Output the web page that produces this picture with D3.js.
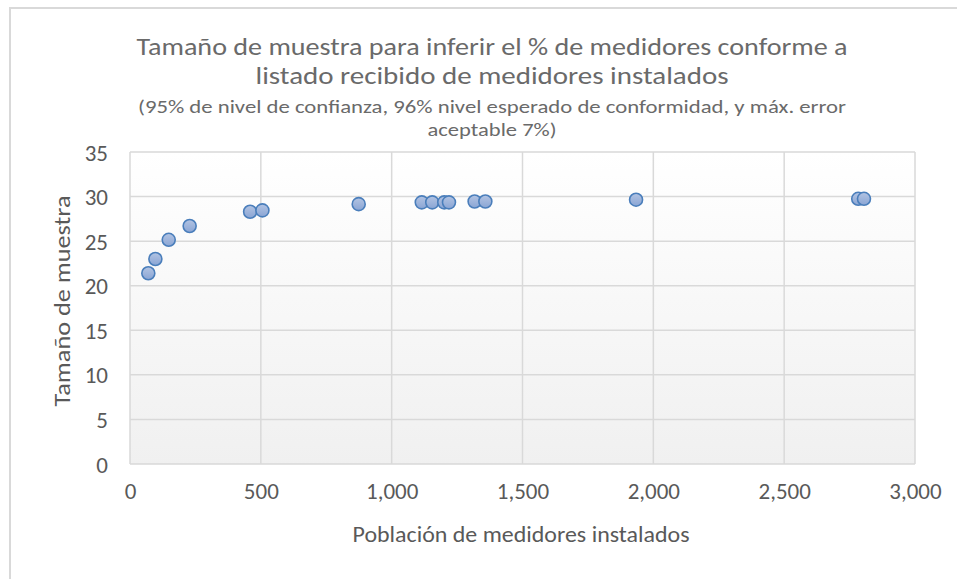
<!DOCTYPE html>
<html>
<head>
<meta charset="utf-8">
<script src="https://cdn.jsdelivr.net/npm/d3@7"></script>
<style>
  body { margin: 0; background: #fff; }
  svg text { font-family: Carlito, Lato, "Open Sans", sans-serif; }
</style>
</head>
<body>
<div id="chart"></div>
<script>
const FRAME_WIDTH = 957;
const FRAME_HEIGHT = 579;
const MARGINS = {left: 130, right: 42, top: 152, bottom: 115};

// data
const poblacion = [70, 97, 148, 228, 459, 506, 874, 1115, 1155, 1201, 1219, 1317, 1358, 1934, 2783, 2805];
const muestra   = [21.4, 23.0, 25.15, 26.7, 28.3, 28.45, 29.15, 29.35, 29.35, 29.35, 29.35, 29.45, 29.45, 29.65, 29.75, 29.75];
const xTicks = [0, 500, 1000, 1500, 2000, 2500, 3000];
const yTicks = [0, 5, 10, 15, 20, 25, 30, 35];
const titleLines = ["Tamaño de muestra para inferir el % de medidores conforme a",
                    "listado recibido de medidores instalados"];
const subtitleLines = ["(95% de nivel de confianza, 96% nivel esperado de conformidad, y máx. error",
                       "aceptable 7%)"];
const xTitle = "Población de medidores instalados";
const yTitle = "Tamaño de muestra";

const data = poblacion.map((p, i) => ({x: p, y: muestra[i]}));

const VIS_WIDTH = FRAME_WIDTH - MARGINS.left - MARGINS.right;
const VIS_HEIGHT = FRAME_HEIGHT - MARGINS.top - MARGINS.bottom;

const svg = d3.select("#chart")
  .append("svg")
    .attr("width", FRAME_WIDTH)
    .attr("height", FRAME_HEIGHT);

const defs = svg.append("defs");
const bg = defs.append("linearGradient").attr("id", "bg")
  .attr("x1", 0).attr("y1", 0).attr("x2", 0).attr("y2", 1);
bg.append("stop").attr("offset", "0%").attr("stop-color", "#ffffff");
bg.append("stop").attr("offset", "100%").attr("stop-color", "#f0f0f0");

const dot = defs.append("linearGradient").attr("id", "dot")
  .attr("x1", 0).attr("y1", 0).attr("x2", 0).attr("y2", 1);
dot.append("stop").attr("offset", "0%").attr("stop-color", "#b3c4e3");
dot.append("stop").attr("offset", "100%").attr("stop-color", "#8aa5d4");

// outer chart frame (runs off the bottom/right of the picture)
svg.append("rect")
  .attr("x", 10).attr("y", 8)
  .attr("width", FRAME_WIDTH + 20).attr("height", FRAME_HEIGHT + 20)
  .attr("fill", "#fff")
  .attr("stroke", "#d9d9d9")
  .attr("stroke-width", 2);

const x = d3.scaleLinear().domain([0, 3000]).range([MARGINS.left, MARGINS.left + VIS_WIDTH]);
const y = d3.scaleLinear().domain([0, 35]).range([MARGINS.top + VIS_HEIGHT, MARGINS.top]);

// plot area
svg.append("rect")
  .attr("x", x(0)).attr("y", y(35))
  .attr("width", VIS_WIDTH).attr("height", VIS_HEIGHT)
  .attr("fill", "url(#bg)");

// gridlines
svg.append("g")
  .selectAll("line.h")
  .data(yTicks)
  .enter()
  .append("line")
    .attr("x1", x(0)).attr("x2", x(3000))
    .attr("y1", d => y(d)).attr("y2", d => y(d))
    .attr("stroke", "#d9d9d9").attr("stroke-width", 1.5);

svg.append("g")
  .selectAll("line.v")
  .data(xTicks)
  .enter()
  .append("line")
    .attr("x1", d => x(d)).attr("x2", d => x(d))
    .attr("y1", y(0)).attr("y2", y(35))
    .attr("stroke", "#d9d9d9").attr("stroke-width", 1.5);

// axes (labels only)
const fmt = d3.format(",");
const xAxis = svg.append("g")
  .attr("transform", "translate(0," + (y(0) + 13) + ")")
  .call(d3.axisBottom(x).tickValues(xTicks).tickFormat(fmt).tickSize(0).tickPadding(6));
const yAxis = svg.append("g")
  .attr("transform", "translate(" + (x(0) - 14) + ",0)")
  .call(d3.axisLeft(y).tickValues(yTicks).tickSize(0).tickPadding(8));

[xAxis, yAxis].forEach(a => {
  a.select(".domain").remove();
  a.selectAll("text")
    .style("font-family", "Carlito, Lato, 'Open Sans', sans-serif")
    .style("font-size", "23px")
    .attr("fill", "#595959");
});
yAxis.selectAll("text").attr("dy", "0.35em");

// points
svg.append("g")
  .selectAll("circle")
  .data(data)
  .enter()
  .append("circle")
    .attr("cx", d => x(d.x))
    .attr("cy", d => y(d.y))
    .attr("r", 6.5)
    .attr("fill", "url(#dot)")
    .attr("stroke", "#4a7ebb")
    .attr("stroke-width", 1.6);

// titles
const cx = 492;
const titleW = [711, 473];
const subW = [708, 129];
svg.selectAll("text.title")
  .data(titleLines)
  .enter()
  .append("text")
    .attr("class", "title")
    .attr("x", cx)
    .attr("y", (d, i) => 55 + i * 29)
    .attr("text-anchor", "middle")
    .attr("fill", "#6a6a6a")
    .attr("textLength", (d, i) => titleW[i])
    .attr("lengthAdjust", "spacingAndGlyphs")
    .style("font-size", "24px")
    .text(d => d);

svg.selectAll("text.sub")
  .data(subtitleLines)
  .enter()
  .append("text")
    .attr("class", "sub")
    .attr("x", cx)
    .attr("y", (d, i) => 113 + i * 23)
    .attr("text-anchor", "middle")
    .attr("fill", "#6a6a6a")
    .attr("textLength", (d, i) => subW[i])
    .attr("lengthAdjust", "spacingAndGlyphs")
    .style("font-size", "18.5px")
    .text(d => d);

svg.append("text")
  .attr("x", 521)
  .attr("y", 542)
  .attr("text-anchor", "middle")
  .attr("fill", "#595959")
  .attr("textLength", 337)
  .attr("lengthAdjust", "spacingAndGlyphs")
  .style("font-size", "23px")
  .text(xTitle);

svg.append("text")
  .attr("transform", "translate(70," + 301 + ") rotate(-90)")
  .attr("text-anchor", "middle")
  .attr("fill", "#595959")
  .attr("textLength", 211)
  .attr("lengthAdjust", "spacingAndGlyphs")
  .style("font-size", "23px")
  .text(yTitle);
</script>
</body>
</html>
